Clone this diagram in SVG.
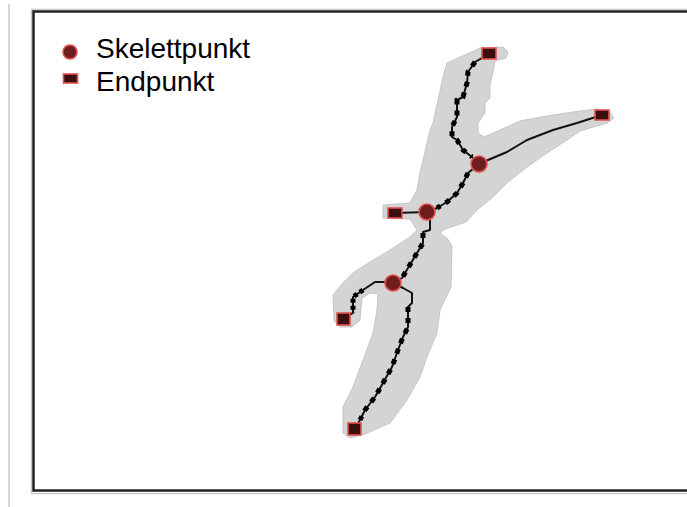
<svg xmlns="http://www.w3.org/2000/svg" width="687" height="507" viewBox="0 0 687 507">
<style>
.lbl{font-family:"Liberation Sans",Arial,sans-serif;font-size:28px;fill:#000}
.jn{fill:#6e1e1e;stroke:#e2504f;stroke-width:1.6}
.ep{fill:#3b0f0f;stroke:#e2504f;stroke-width:1.6}
.sk{fill:none;stroke:#111;stroke-width:2;stroke-linejoin:round;stroke-linecap:round}
.skd{fill:none;stroke:#000;stroke-width:5;stroke-dasharray:5 6}
.shape{fill:#d4d4d4;stroke:#c6c6c6;stroke-width:1}
</style>
<rect width="687" height="507" fill="#fff"/>
<line x1="9" y1="4" x2="9" y2="507" stroke="#d6d6d6" stroke-width="2"/>
<rect x="31.5" y="9.5" width="700" height="484" fill="none" stroke="#c8c8c8" stroke-width="1.5"/>
<rect x="33.5" y="11.5" width="700" height="479" fill="none" stroke="#222" stroke-width="2.5"/>
<g id="legend">
  <circle class="jn" cx="70" cy="52" r="7"/>
  <text class="lbl" x="96" y="58">Skelettpunkt</text>
  <rect class="ep" x="63.5" y="74" width="14" height="9"/>
  <text class="lbl" x="96" y="91">Endpunkt</text>
</g>
<g id="region">
  <polygon class="shape" points="467,54 480,48 503,47 508,52 506,58 495,61 493,72 490,84 490,98 485,103 485,113 478,123 478,133 484,137 500,130 520,121 547,116 573,112 597,109 610,112 614,118 607,123 580,131 567,140 547,153 527,167 507,183 493,197 477,210 466,222 445,229 440,233 447,238 452,246 451,287 440,310 437,333 427,357 420,377 407,400 390,423 365,434 350,438 343,433 343,407 353,387 363,360 373,333 377,310 378,294 370,293 362,298 360,320 352,327 340,327 334,321 333,295 343,283 353,273 370,262 390,250 410,237 417,230 410,219 383,218 383,205 410,203 417,190 420,173 430,130 433,123 443,77 447,63"/>
</g>
<g id="connectors">
  <polyline class="sk" points="489,54 482,58 475,62 468,72 467,83 463,97 457,100 457,117 452,127 452,137 457,140 463,150 472,157 479,164"/>
  <polyline class="skd" points="475,62 468,72 467,83 463,97 457,100 457,117 452,127 452,137 457,140 463,150 472,157"/>
  <polyline class="sk" points="479,164 488,160 507,152 527,140 553,130 577,123 602,115"/>
  <polyline class="sk" points="479,164 468,173 463,183 457,193 447,202 437,208 427,212"/>
  <polyline class="skd" points="468,173 463,183 457,193 447,202 437,208"/>
  <polyline class="sk" points="427,212 395,213"/>
  <polyline class="sk" points="427,212 430,218 430,230 423,232 423,243 417,253 408,268 402,278 393,283"/>
  <polyline class="skd" points="423,233 423,243 417,253 408,268 402,278"/>
  <polyline class="sk" points="393,283 387,282 375,282 363,290 353,297 353,313 343,319"/>
  <polyline class="skd" points="363,290 353,297 353,313" style="stroke-dasharray:4 3"/>
  <polyline class="sk" points="393,283 403,288 412,293 412,303 408,307 408,327 403,337 398,350 392,367 383,383 375,397 365,410 360,420 355,429"/>
  <polyline class="skd" points="408,307 408,327 403,337 398,350 392,367 383,383 375,397 365,410 360,420"/>
</g>
<g id="node-end-top"><rect class="ep" x="482" y="48" width="14" height="11"/></g>
<g id="node-end-right"><rect class="ep" x="595" y="110" width="14" height="10"/></g>
<g id="node-end-left"><rect class="ep" x="388" y="208" width="14" height="10"/></g>
<g id="node-end-hook"><rect class="ep" x="337" y="313" width="13" height="12"/></g>
<g id="node-end-bottom"><rect class="ep" x="348" y="423" width="13" height="12"/></g>
<g id="node-junction-1"><circle class="jn" cx="479" cy="164" r="8"/></g>
<g id="node-junction-2"><circle class="jn" cx="427" cy="212" r="8"/></g>
<g id="node-junction-3"><circle class="jn" cx="393" cy="283" r="8"/></g>
</svg>
